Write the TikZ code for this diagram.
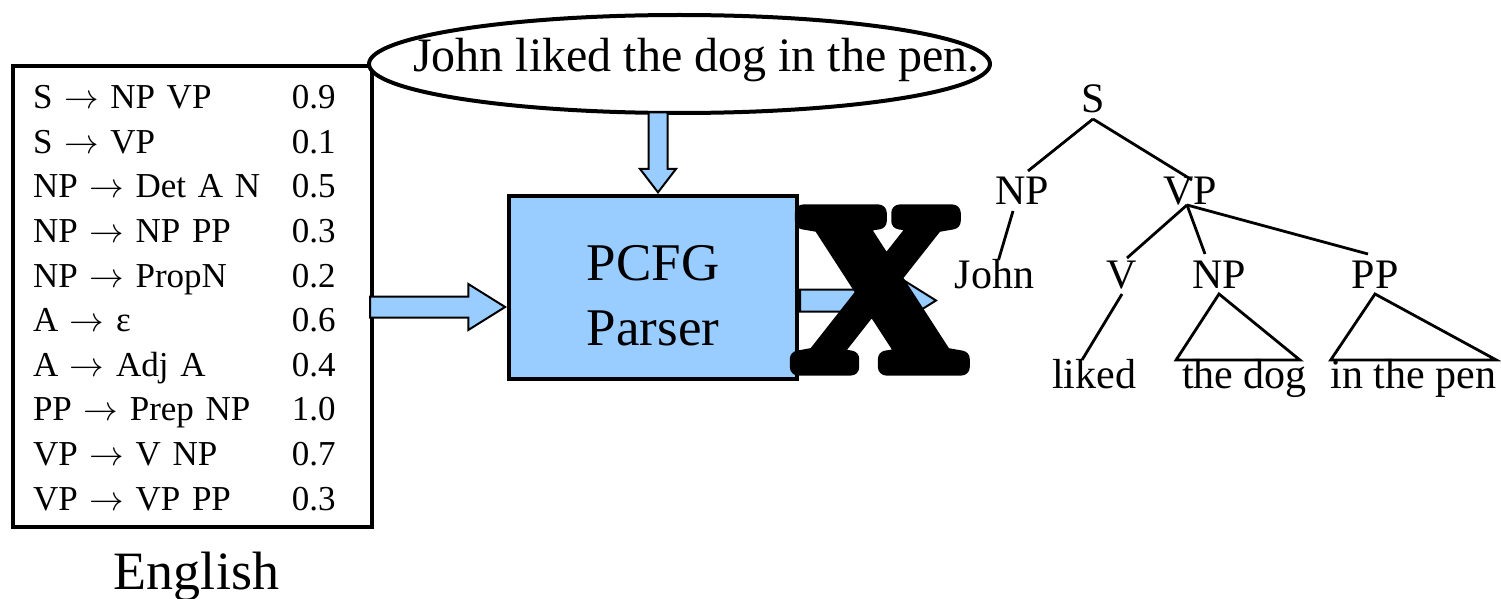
\documentclass[tikz,border=0pt]{standalone}
\usepackage{fontspec}
\setmainfont{Liberation Serif}
\newfontfamily\crossfont{Liberation Serif Bold}[FakeBold=7]
\usetikzlibrary{positioning, calc, shapes.geometric, shapes.arrows}

\definecolor{parserblue}{RGB}{153,204,255}

\tikzset{
    blockarrow/.style={draw, line width=1pt, fill=parserblue, single arrow, inner xsep=0pt, inner ysep=4.75pt,
        minimum width=0pt, single arrow head extend=6.25pt, single arrow tip angle=64},
    cat/.style={font=\fontsize{21}{24}\selectfont, inner sep=2pt, text height=14pt, text depth=0pt, anchor=base},
    leaf/.style={font=\fontsize{21}{24}\selectfont, inner sep=0pt, text height=13pt, text depth=4.5pt, anchor=base},
    branch/.style={line width=1.4pt}
}

\begin{document}
\begin{tikzpicture}[x=0.5pt, y=-0.5pt, line width=2pt]
    \useasboundingbox (0,0) rectangle (1501,599);

    % grammar box
    \node[draw, rectangle, minimum width=179.5pt, minimum height=230.5pt, text width=159.5pt, inner xsep=10pt, inner ysep=0pt,
        font=\fontsize{17.5}{22.3}\selectfont] (rules) at (192.5,296.5) {%
        \raisebox{-2pt}[\height][\depth]{\begin{tabular}{@{}p{129.5pt}@{}l@{}}
        S $\rightarrow$ NP VP & 0.9\\
        S $\rightarrow$ VP & 0.1\\
        NP $\rightarrow$ Det A N & 0.5\\
        NP $\rightarrow$ NP PP & 0.3\\
        NP $\rightarrow$ PropN & 0.2\\
        A $\rightarrow$ ε & 0.6\\
        A $\rightarrow$ Adj A & 0.4\\
        PP $\rightarrow$ Prep NP & 1.0\\
        VP $\rightarrow$ V NP & 0.7\\
        VP $\rightarrow$ VP PP & 0.3
        \end{tabular}}};
    \node[font=\fontsize{27}{32}\selectfont, inner sep=0pt, below=10.5pt of rules, xshift=2pt] (lang) {English};

    % sentence
    \node[draw, ellipse, fill=white, minimum width=310.5pt, minimum height=49pt, inner sep=0pt] (sentence) at (679.5,64) {};
    \node[font=\fontsize{24}{28}\selectfont, inner sep=0pt, anchor=base] (words) at ([xshift=8.5pt, yshift=-4pt]sentence.center) {John liked the dog in the pen.};

    % parser
    \node[draw, rectangle, fill=parserblue, minimum width=144pt, minimum height=91.5pt,
        font=\fontsize{26.5}{32.5}\selectfont] (parser) at (653,287.5)
        {\raisebox{-6pt}[\height][\depth]{\begin{tabular}{@{}c@{}}PCFG\\Parser\end{tabular}}};

    \node[blockarrow, minimum height=67.5pt, anchor=tip] (feed) at ([yshift=-9.75pt]parser.west) {};
    \node[blockarrow, rotate=-90, minimum height=40pt, inner ysep=4.25pt, single arrow head extend=4.25pt,
        single arrow tip angle=75, anchor=tip] (query) at ([xshift=2.5pt]parser.north) {};
    \node[blockarrow, minimum height=68pt, inner ysep=5pt, anchor=tail] (result) at ([yshift=-6.5pt]parser.east) {};

    % crossed out
    \node[font=\fontsize{118}{118}\crossfont, inner sep=0pt, line join=round] (cross) at (879,290) {X};

    % parse tree
    \node[cat] (s) at (1093,113) {S};
    \node[cat] (np) at (1022,205) {NP};
    \node[cat] (vp) at (1190,205) {VP};
    \node[leaf] (john) at (994.5,288) {John};
    \node[cat] (v) at (1122,288) {V};
    \node[cat] (np2) at (1219,288) {NP};
    \node[cat] (pp) at (1375,288) {PP};
    \node[leaf] (liked) at (1094,388) {liked};
    \node[leaf] (dog) at (1244.5,388) {the dog};
    \node[leaf] (pen) at (1413.5,388) {in the pen};
    \coordinate (vpfoot) at ([xshift=-1.5pt, yshift=3pt]vp.south);

    \draw[branch] (s.south) -- ([xshift=3pt]np.north);
    \draw[branch] (s.south) -- ([xshift=1pt, yshift=-4.5pt]vp.north);
    \draw[branch] ([xshift=-4.5pt]np.south) -- ([xshift=2pt]john.north);
    \draw[branch] (vpfoot) -- ([xshift=2.5pt, yshift=-2pt]v.north);
    \draw[branch] (vpfoot) -- ([xshift=-7pt]np2.north);
    \draw[branch] (vpfoot) -- ([xshift=-3.5pt]pp.north);
    \draw[branch] (v.south) -- ([xshift=-6pt]liked.north);
    \draw[branch] (np2.south) -- ([xshift=-2pt]dog.north west) -- ([xshift=-4.5pt]dog.north east) -- cycle;
    \draw[branch] (pp.south) -- ([xshift=1pt]pen.north west) -- ([xshift=-1pt]pen.north east) -- cycle;
\end{tikzpicture}
\end{document}
